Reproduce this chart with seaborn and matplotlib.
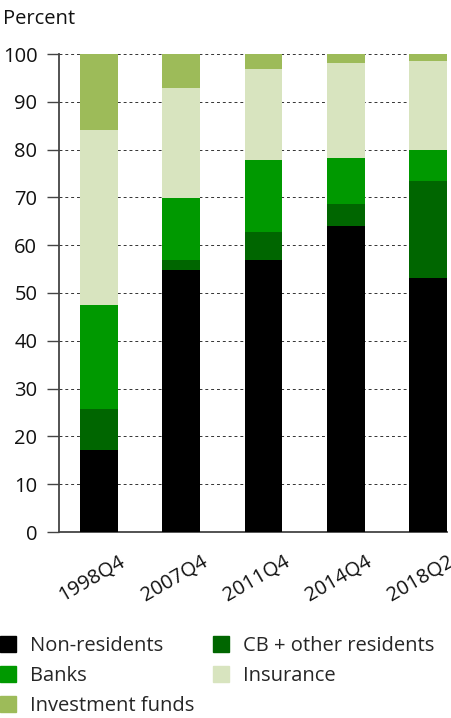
import matplotlib
matplotlib.use("Agg")
import matplotlib.pyplot as plt
import matplotlib.patches as mpatches
import matplotlib.transforms as mtransforms
import seaborn as sns
import numpy as np
import pandas as pd

categories = ["1998Q4", "2007Q4", "2011Q4", "2014Q4", "2018Q2"]
non_residents = [17.2, 54.9, 57.0, 64.1, 53.2]
cb_other = [8.5, 1.9, 5.8, 4.6, 20.3]
banks = [21.8, 13.1, 15.1, 9.6, 6.4]
insurance = [36.6, 23.0, 19.0, 19.8, 18.6]
investment_funds = [15.9, 7.1, 3.1, 1.9, 1.5]

series_names = ["Non-residents", "CB + other residents", "Banks", "Insurance", "Investment funds"]
series_values = [non_residents, cb_other, banks, insurance, investment_funds]
colors = ["#000000", "#006600", "#009900", "#D8E4BF", "#9DBB59"]

sns.set_theme(style="white")
plt.rcParams["font.family"] = ["Open Sans", "DejaVu Sans"]

FS = 14.5
fig = plt.figure(figsize=(4.51, 7.18), dpi=100)
ax = fig.add_axes([59/451, 186/718, (447-59)/451, (532-54)/718])

cum = np.cumsum(np.array(series_values), axis=0)
# draw from top (largest cumulative) down, overlapping
for i in range(len(series_names) - 1, -1, -1):
    df = pd.DataFrame({"cat": categories, "val": cum[i]})
    sns.barplot(data=df, x="cat", y="val", color=colors[i], width=0.46,
                saturation=1, ax=ax, zorder=3, linewidth=0)

ax.set_ylim(0, 100)
ax.set_xlim(-0.486, 4.23)
ax.set_yticks(range(0, 101, 10))
ax.set_xlabel("")
ax.set_ylabel("")
ax.yaxis.grid(True, linestyle=(0, (3, 3)), color="#333333", linewidth=0.7, zorder=0)
ax.xaxis.grid(False)
ax.set_axisbelow(True)
for s in ["top", "right"]:
    ax.spines[s].set_visible(False)
for s in ["left", "bottom"]:
    ax.spines[s].set_color("#444444")
    ax.spines[s].set_linewidth(1.3)
ax.tick_params(axis="y", which="major", left=True, length=8.6, width=1.0, color="#444444",
               pad=7, labelsize=FS, labelcolor="#111111")
ax.tick_params(axis="x", length=0, pad=14, labelsize=FS, labelcolor="#111111")
offset = mtransforms.ScaledTranslation(-7/100, 0, fig.dpi_scale_trans)
for lbl in ax.get_xticklabels():
    lbl.set_rotation(30)
    lbl.set_ha("center")
    lbl.set_transform(lbl.get_transform() + offset)

fig.text(3/451, 1 - 24/718, "Percent", fontsize=FS, color="#111111", va="baseline", ha="left")

handles = [mpatches.Patch(color=c, label=n) for c, n in zip(colors, series_names)]
order = [0, 2, 4, 1, 3]
fig.legend([handles[i] for i in order], [series_names[i] for i in order],
           loc="upper left", bbox_to_anchor=(0.0, 1 - 636/718), ncol=2, frameon=False,
           fontsize=FS, handlelength=0.8, handleheight=0.8, handletextpad=0.7,
           columnspacing=0.9, labelspacing=0.5, borderaxespad=0, borderpad=0)

fig.savefig("out.png", dpi=100)
